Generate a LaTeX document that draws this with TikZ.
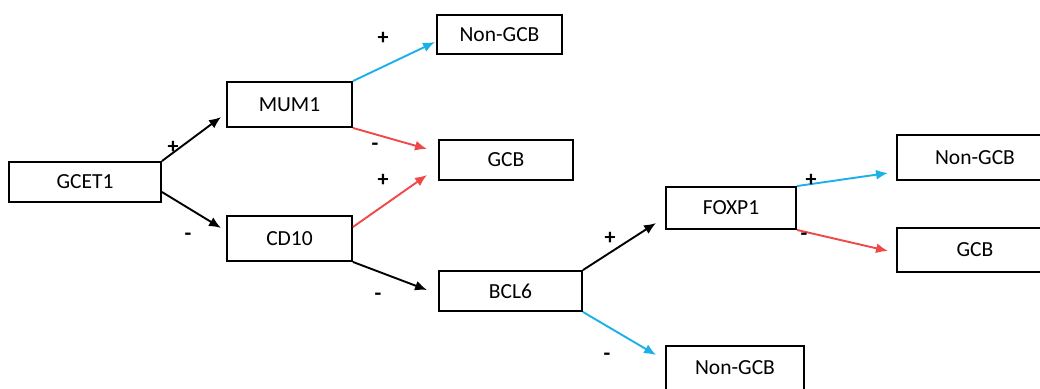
\documentclass[tikz,border=0pt]{standalone}
\usepackage{fontspec}
\setmainfont{Carlito}
\usepackage{xcolor}
\usetikzlibrary{arrows.meta, positioning, calc}

\definecolor{posblue}{HTML}{1CB0E8}
\definecolor{negred}{HTML}{F04848}

\begin{document}
\begin{tikzpicture}[
    x=1pt, y=-1pt,
    box/.style={draw, rectangle, line width=1.9pt, inner sep=0pt, align=center, font=\fontsize{21.5}{25}\selectfont},
    arrow/.style={-{Latex[length=12pt, width=10pt]}, line width=1.9pt},
    sign/.style={font=\fontsize{22}{25}\selectfont\bfseries, inner sep=0pt},
]
\useasboundingbox (0,0) rectangle (1040,388);

% Markers
\node[box, minimum width=152pt, minimum height=40pt] (gcet) at (85,182) {GCET1};
\node[box, minimum width=125pt, minimum height=45pt] (mum) at (289.5,104.5) {MUM1};
\node[box, minimum width=125pt, minimum height=45pt] (cd) at (289.5,238.5) {CD10};
\node[box, minimum width=143pt, minimum height=40pt] (bcl) at (510.5,291) {BCL6};
\node[box, minimum width=130pt, minimum height=42pt] (foxp) at (731,208) {FOXP1};

% Outcomes
\node[box, minimum width=125pt, minimum height=39pt] (nongcbA) at (499.5,34.5) {Non-GCB};
\node[box, minimum width=134pt, minimum height=40pt] (gcbA) at (506,160) {GCB};
\node[box, minimum width=156pt, minimum height=45pt] (nongcbB) at (975,157.5) {Non-GCB};
\node[box, minimum width=156pt, minimum height=44pt] (gcbB) at (975,250) {GCB};
\node[box, minimum width=138pt, minimum height=44pt] (nongcbC) at (735,368) {Non-GCB};

% Arrows
\draw[arrow] (gcet.north east) -- ([xshift=-5pt, yshift=-12.5pt]mum.west);
\draw[arrow] ([yshift=-10pt]gcet.east) -- ([xshift=-5pt, yshift=10.5pt]cd.west);
\draw[arrow, posblue] (mum.north east) -- ([xshift=-1pt, yshift=-7.5pt]nongcbA.west);
\draw[arrow, negred] (mum.south east) -- ([xshift=-11pt, yshift=11pt]gcbA.west);
\draw[arrow, negred] ([yshift=11.5pt]cd.east) -- ([xshift=-11pt, yshift=-15pt]gcbA.west);
\draw[arrow] (cd.south east) -- ([xshift=-11pt, yshift=1pt]bcl.west);
\draw[arrow] (bcl.north east) -- ([xshift=-9pt, yshift=-15pt]foxp.west);
\draw[arrow, posblue] (bcl.south east) -- ([xshift=-9pt, yshift=13pt]nongcbC.west);
\draw[arrow, posblue] (foxp.north east) -- ([xshift=-8pt, yshift=-15.5pt]nongcbB.west);
\draw[arrow, negred] (foxp.south east) -- ([xshift=-8pt, yshift=-1pt]gcbB.west);

% Signs
\node[sign] (p1) at (173,147) {+};
\node[sign] (m1) at (188,237) {-};
\node[sign] (p2) at (383,38) {+};
\node[sign] (m2) at (375,147) {-};
\node[sign] (p3) at (383,180) {+};
\node[sign] (m3) at (378,297) {-};
\node[sign] (p4) at (610,238) {+};
\node[sign] (m4) at (607,357) {-};
\node[sign] (p5) at (811,180) {+};
\node[sign] (m5) at (804,237) {-};

\end{tikzpicture}
\end{document}
